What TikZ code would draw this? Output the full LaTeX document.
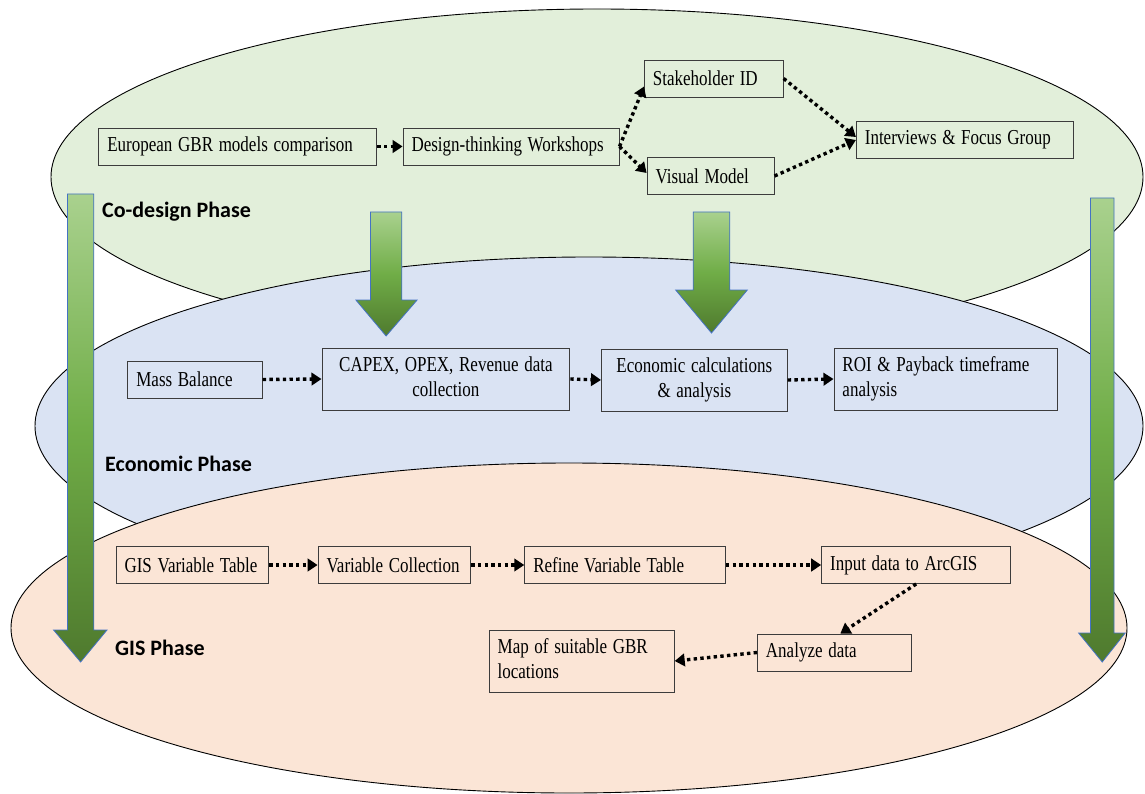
\documentclass[tikz,border=0pt]{standalone}
\usepackage{fontspec}
\usepackage{graphicx}
\setmainfont{Liberation Serif}
\newfontfamily\phasefont{Carlito}
\usetikzlibrary{arrows.meta}

\definecolor{codesignfill}{HTML}{E2EFDA}
\definecolor{econfill}{HTML}{DAE3F3}
\definecolor{gisfill}{HTML}{FBE5D6}
\definecolor{boxline}{HTML}{3C3C3C}
\definecolor{arrowtop}{HTML}{A9D18E}
\definecolor{arrowmid}{HTML}{70AD47}
\definecolor{arrowbot}{HTML}{4F7A2E}
\definecolor{arrowedge}{HTML}{4472C4}

% slightly tall text, one or two lines
\newcommand\tallt[1]{\scalebox{1}[1.25]{#1}}
\newcommand\twolines[3]{\tallt{\begin{tabular}{@{}#1@{}}#2\\#3\end{tabular}}}

% block arrow: shaft x-range, shaft top, head x-range, head base, tip
\newcommand\phasearrow[7]{%
  \path[bigarrow] (#1,#3) -- (#2,#3) -- (#2,#6) -- (#5,#6)
    -- ({(#1+#2)/2},#7) -- (#4,#6) -- (#1,#6) -- cycle;}

\tikzset{
  phase/.style={draw=black, line width=0.9pt},
  stepbox/.style={draw=boxline, line width=0.9pt, anchor=west,
    inner xsep=8.5pt, inner ysep=0pt, minimum height=37pt,
    align=left, font=\fontsize{17}{19.5}\selectfont},
  flow/.style={black, line width=3.4pt, dash pattern=on 3.4pt off 3.3pt,
    -{Triangle[length=10pt,width=12.5pt]}},
  phaselabel/.style={anchor=base west, inner sep=0pt,
    font=\phasefont\bfseries\fontsize{22}{26}\selectfont},
  bigarrow/.style={draw=arrowedge, line width=0.8pt,
    top color=arrowtop, bottom color=arrowbot, middle color=arrowmid},
}

\begin{document}
\begin{tikzpicture}[x=1pt, y=-1pt]
\useasboundingbox (0,0) rectangle (1145,794);
\fill[white] (0,0) rectangle (1145,794);

% the three phase layers
\path[phase, fill=codesignfill] (597,177) ellipse [x radius=546, y radius=168];
\path[phase, fill=econfill] (589,426) ellipse [x radius=554, y radius=169];
\path[phase, fill=gisfill] (569,628) ellipse [x radius=558, y radius=165];

% co-design steps
\node[stepbox, text width=261pt] (e1) at (98.4,146.5) {\tallt{European GBR models comparison}};
\node[stepbox, text width=199pt] (e2) at (402.6,146.5) {\tallt{Design-thinking Workshops}};
\node[stepbox, text width=121.7pt] (sh) at (644,78.5) {\tallt{Stakeholder ID}};
\node[stepbox, text width=110pt] (vm) at (646.6,176) {\tallt{Visual Model}};
\node[stepbox, text width=200pt] (ifg) at (855.9,140) {\tallt{Interviews \& Focus Group}};

% economic steps
\node[stepbox, text width=117.4pt] (mb) at (127.4,379.5) {\tallt{Mass Balance}};
\node[stepbox, text width=230.9pt, minimum height=62pt, align=center] (cap) at (321.5,379) {\twolines{c}{CAPEX, OPEX, Revenue data}{collection}};
\node[stepbox, text width=168.8pt, minimum height=62pt, align=center] (ec) at (601,380) {\twolines{c}{Economic calculations}{\& analysis}};
\node[stepbox, text width=206pt, minimum height=62pt] (roi) at (833.5,379) {\twolines{l}{ROI \& Payback timeframe}{analysis}};

% GIS steps
\node[stepbox, text width=135.7pt] (gv) at (115.6,565) {\tallt{GIS Variable Table}};
\node[stepbox, text width=135.7pt] (vc) at (317.6,565) {\tallt{Variable Collection}};
\node[stepbox, text width=183.6pt] (rv) at (524.3,565) {\tallt{Refine Variable Table}};
\node[stepbox, text width=172.1pt] (ia) at (821.2,565) {\tallt{Input data to ArcGIS}};
\node[stepbox, text width=136.7pt] (az) at (757,652.5) {\tallt{Analyze data}};
\node[stepbox, text width=168.1pt, minimum height=62pt] (map) at (488.7,661) {\twolines{l}{Map of suitable GBR}{locations}};

% dotted flow connectors
\draw[flow] (e1.east) -- (e2.west);
\draw[flow] (e2.east) -- ([yshift=-8pt]sh.west);
\draw[flow] (e2.east) -- ([yshift=3pt]vm.west);
\draw[flow] (sh.east) -- ([yshift=3pt]ifg.west);
\draw[flow] (vm.east) -- (ifg.west);

\draw[flow] (mb.east) -- (cap.west);
\draw[flow] (cap.east) -- (ec.west);
\draw[flow] (ec.east) -- (roi.west);

\draw[flow] (gv.east) -- (vc.west);
\draw[flow] (vc.east) -- (rv.west);
\draw[flow] (rv.east) -- (ia.west);
\draw[flow] (ia.south) -- ([xshift=6pt]az.north);
\draw[flow] (az.west) -- (map.east);

% phase labels
\node[phaselabel] (lcod) at (102,218) {Co-design Phase};
\node[phaselabel] (leco) at (105,471.5) {Economic Phase};
\node[phaselabel] (lgis) at (115,655) {GIS Phase};

% green block arrows between and across the phases
\phasearrow{67.4}{93.8}{194}{53.6}{107}{630}{662}
\phasearrow{370.4}{401.8}{212}{355.9}{417.1}{300}{336}
\phasearrow{693.2}{729.8}{212}{675.7}{747.3}{290}{333}
\phasearrow{1090.5}{1114}{198}{1078.6}{1125.2}{633}{662}
\end{tikzpicture}
\end{document}
